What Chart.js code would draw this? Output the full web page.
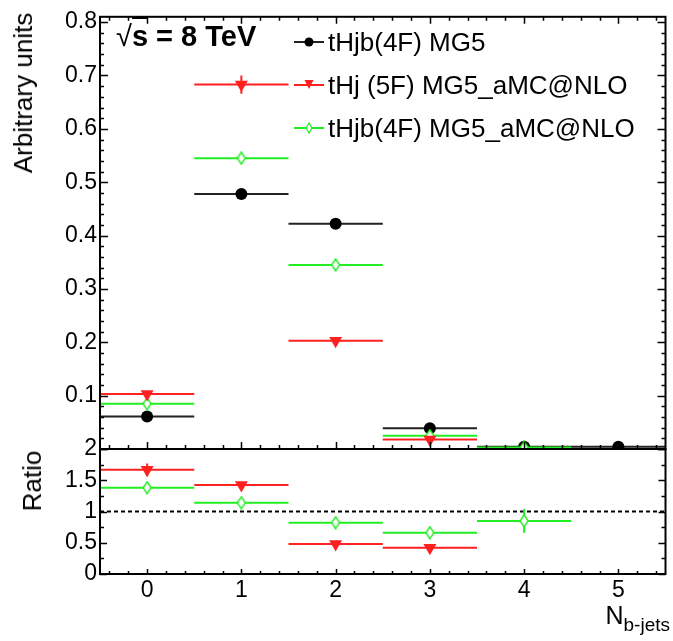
<!DOCTYPE html>
<html>
<head>
<meta charset="utf-8">
<script src="https://cdn.jsdelivr.net/npm/chart.js@4.4.1/dist/chart.umd.min.js"></script>
<style>
  html, body { margin: 0; padding: 0; background: #fff; }
  body { width: 673px; height: 641px; position: relative; overflow: hidden;
         font-family: "Liberation Sans", Arial, Helvetica, sans-serif; color: #000; }
  canvas { position: absolute; left: 0; }
  #cTop { top: 0; }
  #cRatio { top: 430px; }
  .t { position: absolute; white-space: nowrap; line-height: 1; }
  .sym { position: absolute; }
</style>
</head>
<body>
<canvas id="cTop" width="673" height="470"></canvas>
<canvas id="cRatio" width="673" height="211"></canvas>

<!-- axis titles -->
<div class="t" id="ytitle" style="font-size:26px; left:23px; top:93px; transform:translate(-50%,-50%) rotate(-90deg);">Arbitrary units</div>
<div class="t" id="rtitle" style="font-size:26px; left:32px; top:481px; transform:translate(-50%,-50%) rotate(-90deg);">Ratio</div>
<div class="t" id="xtitle" style="font-size:25px; right:3px; top:603px;">N<span style="font-size:19px; position:relative; top:7px;">b-jets</span></div>

<!-- energy label -->
<div class="t" style="font-size:29px; font-weight:bold; left:116px; top:22px;"><span style="font-weight:normal;">√</span><span style="border-top:2px solid #000; padding-top:1px;">s</span> = 8 TeV</div>

<!-- legend -->
<svg class="sym" style="left:293px; top:34px;" width="32" height="16">
  <line x1="1" y1="8" x2="31" y2="8" stroke="#222" stroke-width="2"/>
  <circle cx="16" cy="8" r="4.5" fill="#000"/>
</svg>
<div class="t" style="font-size:26px; left:328px; top:29px;" id="leg0"></div>
<svg class="sym" style="left:293px; top:77px;" width="32" height="16">
  <line x1="1" y1="8" x2="31" y2="8" stroke="#ff2020" stroke-width="2"/>
  <polygon points="11.5,3 20.5,3 16,12" fill="#ff2020"/>
</svg>
<div class="t" style="font-size:26px; left:328px; top:72px;" id="leg1"></div>
<svg class="sym" style="left:293px; top:120px;" width="32" height="16">
  <line x1="1" y1="8" x2="31" y2="8" stroke="#22ee22" stroke-width="2"/>
  <polygon points="16,3 19,8 16,13 13,8" fill="#fff" stroke="#22ee22" stroke-width="1.3"/>
</svg>
<div class="t" style="font-size:26px; left:328px; top:115px;" id="leg2"></div>

<script>
// ---------------- data ----------------
const binCenters = [0, 1, 2, 3, 4, 5];
const xTickLabels = ['0', '1', '2', '3', '4', '5'];
const topYTicks = [0.1, 0.2, 0.3, 0.4, 0.5, 0.6, 0.7, 0.8];
const ratioYTicks = [0, 0.5, 1, 1.5, 2];
const seriesNames = ['tHjb(4F) MG5', 'tHj (5F) MG5_aMC@NLO', 'tHjb(4F) MG5_aMC@NLO'];

const mg5_4F     = [0.061, 0.478, 0.422, 0.039, 0.004, 0.004];
const amc_5F     = [0.103, 0.683, 0.203, 0.018, null, null];
const amc_4F     = [0.085, 0.545, 0.345, 0.025, 0.003, null];
const amc_5F_err = [0, 0.017, 0, 0, 0, 0];

const ratio_5F     = [1.67, 1.425, 0.48, 0.42, null, null];
const ratio_4F     = [1.38, 1.14, 0.82, 0.66, 0.85, null];
const ratio_5F_err = [0.10, 0, 0, 0, 0, 0];
const ratio_4F_err = [0, 0, 0, 0, 0.19, 0];
const refLine = [1];

// ---------------- styling ----------------
const COL_BLACK = '#000000', COL_BLACK_LINE = '#222222';
const COL_RED = '#ff2020', COL_GREEN = '#22ee22';
const FONT = '"Liberation Sans", Arial, Helvetica, sans-serif';

seriesNames.forEach((n, i) => document.getElementById('leg' + i).textContent = n);

// narrow open diamond marker
function diamondMarker(w, h, color) {
  const c = document.createElement('canvas');
  c.width = w + 2; c.height = h + 2;
  const g = c.getContext('2d');
  const cx = (w + 2) / 2, cy = (h + 2) / 2;
  g.beginPath();
  g.moveTo(cx, 1); g.lineTo(cx + w / 2, cy); g.lineTo(cx, h + 1); g.lineTo(cx - w / 2, cy); g.closePath();
  g.fillStyle = '#fff'; g.fill();
  g.strokeStyle = color; g.lineWidth = 1.4; g.stroke();
  return c;
}
const greenDiamond = diamondMarker(8, 12, COL_GREEN);

// horizontal bin-width bars + vertical error bars built from the values
function binSegments(values, errs) {
  const out = [];
  values.forEach((v, i) => {
    if (v === null) return;
    const c = binCenters[i];
    out.push({ x: c - 0.5, y: v }, { x: c + 0.5, y: v }, { x: c + 0.5, y: null });
    const e = errs ? errs[i] : 0;
    if (e > 0) out.push({ x: c, y: v - e }, { x: c, y: v + e }, { x: c, y: null });
  });
  return out;
}
function markers(values) {
  const out = [];
  values.forEach((v, i) => { if (v !== null) out.push({ x: binCenters[i], y: v }); });
  return out;
}
function lineDS(data, color, order) {
  return { type: 'scatter', data, showLine: true, spanGaps: false, borderColor: color,
           borderWidth: 2, pointRadius: 0, order, clip: 0 };
}
function markerDS(data, style, order) {
  return Object.assign({ type: 'scatter', data, showLine: false, order, clip: 0, borderWidth: 0 }, style);
}
const blackStyle = { pointStyle: 'circle', pointRadius: 6, backgroundColor: COL_BLACK, borderColor: COL_BLACK };
const redStyle = { pointStyle: 'triangle', pointRadius: 7.5, rotation: 180, backgroundColor: COL_RED, borderColor: COL_RED };
const greenStyle = { pointStyle: greenDiamond, pointRadius: 6, backgroundColor: '#fff', borderColor: COL_GREEN };

// ROOT-like frame with inward tick marks
const frameTicks = {
  id: 'frameTicks',
  afterDraw(chart, args, o) {
    const { ctx, chartArea: a, scales } = chart;
    const xs = scales.x, ys = scales.y;
    ctx.save();
    ctx.strokeStyle = '#000';
    ctx.lineWidth = 1.5;
    ctx.beginPath();
    const ny = Math.round((o.yMax - o.yMin) / o.yMinor);
    for (let k = 0; k <= ny; k++) {
      const v = o.yMin + k * o.yMinor;
      if (v > ys.max + 1e-9) break;
      const py = Math.round(ys.getPixelForValue(v)) + 0.5;
      const major = Math.abs(v / o.yMajor - Math.round(v / o.yMajor)) < 1e-6;
      const L = major ? o.yMajLen : o.yMinLen;
      ctx.moveTo(a.left, py); ctx.lineTo(a.left + L, py);
      ctx.moveTo(a.right, py); ctx.lineTo(a.right - L, py);
    }
    const nx = Math.round((xs.max - xs.min) / o.xMinor);
    for (let k = 0; k <= nx + 1; k++) {
      const v = Math.ceil(xs.min / o.xMinor) * o.xMinor + k * o.xMinor;
      if (v > xs.max + 1e-9) break;
      const px = Math.round(xs.getPixelForValue(v)) + 0.5;
      const major = Math.abs(v - Math.round(v)) < 1e-6;
      const L = major ? o.xMajLen : o.xMinLen;
      ctx.moveTo(px, a.bottom); ctx.lineTo(px, a.bottom - L);
      if (o.topTicks) { ctx.moveTo(px, a.top); ctx.lineTo(px, a.top + L); }
    }
    ctx.stroke();
    ctx.lineWidth = 2;
    ctx.strokeRect(a.left, a.top, a.right - a.left, a.bottom - a.top);
    ctx.restore();
  }
};

function yAxis(min, max, tickVals, font) {
  return {
    type: 'linear', position: 'left', min, max,
    afterFit(s) { s.width = 100; },
    afterBuildTicks(s) { s.ticks = tickVals.map(v => ({ value: v })); },
    grid: { display: false, drawTicks: false },
    border: { display: false },
    ticks: { color: '#000', padding: 3, font: { family: FONT, size: font }, callback: v => String(v) }
  };
}

const common = {
  responsive: false, animation: false, events: [],
  plugins: { legend: { display: false }, tooltip: { enabled: false } }
};

// ---------------- top panel ----------------
new Chart(document.getElementById('cTop'), {
  type: 'scatter',
  data: { datasets: [
    lineDS(binSegments(mg5_4F), COL_BLACK_LINE, 6),
    markerDS(markers(mg5_4F), blackStyle, 5),
    lineDS(binSegments(amc_4F), COL_GREEN, 4),
    markerDS(markers(amc_4F), greenStyle, 3),
    lineDS(binSegments(amc_5F, amc_5F_err), COL_RED, 2),
    markerDS(markers(amc_5F), redStyle, 1)
  ]},
  options: Object.assign({}, common, {
    layout: { padding: { left: 0, right: 4, top: 15, bottom: 21 } },
    scales: {
      x: { type: 'linear', min: -0.5, max: 5.5, display: false },
      y: yAxis(0, 0.81, topYTicks, 23)
    },
    plugins: Object.assign({}, common.plugins, {
      frameTicks: { yMin: 0, yMax: 0.81, yMinor: 0.02, yMajor: 0.1, yMajLen: 8, yMinLen: 4,
                    xMinor: 0.2, xMajLen: 7, xMinLen: 4, topTicks: true }
    })
  }),
  plugins: [frameTicks]
});

// ---------------- ratio panel ----------------
const refDS = lineDS([{ x: -0.5, y: refLine[0] }, { x: 5.5, y: refLine[0] }], '#000', 10);
refDS.borderDash = [4, 3];
new Chart(document.getElementById('cRatio'), {
  type: 'scatter',
  data: { datasets: [
    refDS,
    lineDS(binSegments(ratio_4F, ratio_4F_err), COL_GREEN, 4),
    markerDS(markers(ratio_4F), greenStyle, 3),
    lineDS(binSegments(ratio_5F, ratio_5F_err), COL_RED, 2),
    markerDS(markers(ratio_5F), redStyle, 1)
  ]},
  options: Object.assign({}, common, {
    layout: { padding: { left: 0, right: 4, top: 19, bottom: 0 } },
    scales: {
      x: {
        type: 'linear', position: 'bottom', min: -0.5, max: 5.5,
        afterFit(s) { s.height = 67; },
        afterBuildTicks(s) { s.ticks = xTickLabels.map(t => ({ value: Number(t) })); },
        grid: { display: false, drawTicks: false },
        border: { display: false },
        ticks: { color: '#000', padding: 3, maxRotation: 0, font: { family: FONT, size: 23 },
                 callback: (v, i) => xTickLabels[i] }
      },
      y: yAxis(0, 2, ratioYTicks, 23)
    },
    plugins: Object.assign({}, common.plugins, {
      frameTicks: { yMin: 0, yMax: 2, yMinor: 0.25, yMajor: 0.5, yMajLen: 7, yMinLen: 4,
                    xMinor: 0.2, xMajLen: 5, xMinLen: 3, topTicks: false }
    })
  }),
  plugins: [frameTicks]
});
</script>
</body>
</html>
